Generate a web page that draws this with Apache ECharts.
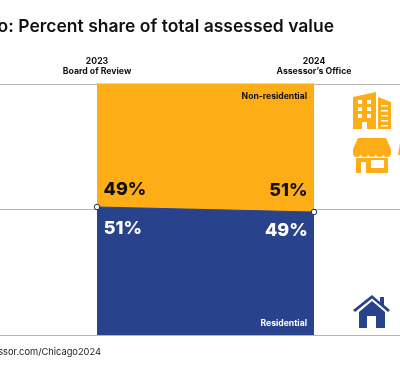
<!DOCTYPE html>
<html><head><meta charset="utf-8">
<style>html,body{margin:0;padding:0;background:#fff;overflow:hidden}#c{width:400px;height:373px}</style>
<script src="https://cdn.jsdelivr.net/npm/echarts@6/dist/echarts.min.js"></script></head>
<body><div id="c"></div>
<script>
const years = ["2023", "2024"];
const sources = ["Board of Review", "Assessor’s Office"];
const residential = [51, 49];
const nonResidential = [49, 51];
const titleText = "Chicago: Percent share of total assessed value";
const sourceText = "Source: cookcountyassessor.com/Chicago2024";
const seriesNames = ["Residential", "Non-residential"];
const FONT = "Inter";
const ORANGE = "#FDAE17", BLUE = "#29428C";

const pct = p => p.value + "%";
const chart = echarts.init(document.getElementById("c"), null, {renderer:"canvas"});
function pctLabel(color, position, align){
  return {show:true, position, align, verticalAlign:"middle", formatter:pct, color,
    fontFamily:FONT, fontSize:18, fontWeight:800};
}
function poly(points, fill){ return {type:"polygon", shape:{points}, style:{fill}, silent:true}; }
function rect(x,y,width,height,fill,r){ return {type:"rect", shape:{x,y,width,height,r:r||0}, style:{fill}, silent:true}; }

const white="#fff";
const graphics = [
  {type:"text", x:334, y:27, style:{text:titleText, textAlign:"right", textVerticalAlign:"middle", fill:"#111", font:"600 17.5px "+FONT}},
  {type:"text", x:101, y:352, style:{text:sourceText, textAlign:"right", textVerticalAlign:"middle", fill:"#222", font:"400 9.3px "+FONT}},
  {type:"text", x:307, y:96, z:10, style:{text:seriesNames[1], textAlign:"right", textVerticalAlign:"middle", fill:"#111", font:"700 8.6px "+FONT}},
  {type:"text", x:307, y:323, z:10, style:{text:seriesNames[0], textAlign:"right", textVerticalAlign:"middle", fill:"#fff", font:"700 8.6px "+FONT}},
  // office building
  poly([[353,97],[376,92],[376,129],[353,129]],ORANGE),
  poly([[378,97],[391,102],[391,129],[378,129]],ORANGE),
  rect(358,100,4,4,white),rect(367,100,4,4,white),
  rect(358,107,4,4,white),rect(367,107,4,4,white),
  rect(358,114,4,4,white),rect(367,114,4,4,white),
  rect(362,122,5,7,white),
  rect(381,105,7,1.5,white),rect(381,110,7,1.5,white),rect(381,115,7,1.5,white),rect(381,120,7,1.5,white),rect(381,125,7,1.5,white),
  // shop
  poly([[358,138],[386,138],[391,149],[391,153],[353,153],[353,149]],ORANGE),
  {type:"circle",shape:{cx:357,cy:153,r:4},style:{fill:ORANGE}},
  {type:"circle",shape:{cx:364.5,cy:153,r:4},style:{fill:ORANGE}},
  {type:"circle",shape:{cx:372,cy:153,r:4},style:{fill:ORANGE}},
  {type:"circle",shape:{cx:379.5,cy:153,r:4},style:{fill:ORANGE}},
  {type:"circle",shape:{cx:387,cy:153,r:4},style:{fill:ORANGE}},
  rect(356,158,32,15,ORANGE,1),
  rect(361,162,5,11,white),rect(371,160,13,8,white),
  poly([[398,155],[400,155],[400,143]],ORANGE),
  // house
  poly([[372,295],[380,302],[380,297],[384,297],[384,305],[390,310],[388,312],[372,298.5],[355,312],[353,310]],BLUE),
  poly([[372,301],[385,312],[385,328],[376,328],[376,316],[367,316],[367,328],[359,328],[359,312]],BLUE)
];

chart.setOption({
  animation:false,
  textStyle:{fontFamily:FONT},
  grid:[
    {left:0,right:0,top:84,bottom:38},
    {left:97,right:86,top:84,bottom:38}
  ],
  xAxis:[
    {type:"value", gridIndex:0, min:0, max:1, show:false},
    {type:"category", gridIndex:1, position:"top", data:years, boundaryGap:false,
     axisLine:{show:false}, axisTick:{show:false}, splitLine:{show:false},
     axisLabel:{show:true, margin:8, interval:0, hideOverlap:false,
      formatter:(v,i)=>"{a|"+v+"}\n{b|"+sources[i]+"}",
      rich:{a:{fontFamily:FONT,fontSize:8.7,fontWeight:700,color:"#111",lineHeight:10,align:"center"},
            b:{fontFamily:FONT,fontSize:8.7,fontWeight:700,color:"#111",lineHeight:10,align:"center"}}}}
  ],
  yAxis:[
    {type:"value", gridIndex:0, min:0, max:100, interval:50,
     axisLine:{show:false}, axisTick:{show:false}, axisLabel:{show:false},
     splitLine:{show:true, lineStyle:{color:"#b5b5b5",width:1}}},
    {type:"value", gridIndex:1, min:0, max:100, show:false, splitLine:{show:false}}
  ],
  series:[
    {name:seriesNames[0], type:"line", xAxisIndex:1, yAxisIndex:1, stack:"t", z:3, symbol:"circle", symbolSize:5.5,
     showSymbol:true, clip:false,
     itemStyle:{color:"#fff",borderColor:"#1d2c55",borderWidth:1},
     lineStyle:{width:1,color:BLUE}, areaStyle:{color:BLUE,opacity:1},
     data:residential.map((v,i)=>({value:v,
       label:i===0?pctLabel("#fff",[10,25],"left"):pctLabel("#fff",[-3,22],"right")}))},
    {name:seriesNames[1], type:"line", xAxisIndex:1, yAxisIndex:1, stack:"t", z:2, symbol:"circle", symbolSize:1, showSymbol:true, clip:false,
     itemStyle:{color:ORANGE},
     lineStyle:{width:1,color:ORANGE}, areaStyle:{color:ORANGE,opacity:1},
     data:nonResidential.map((v,i)=>({value:v,
       label:i===0?pctLabel("#111",[7,106],"left"):pctLabel("#111",[-6,107],"right")}))}
  ],
  graphic:{elements:graphics}
});
</script></body></html>
